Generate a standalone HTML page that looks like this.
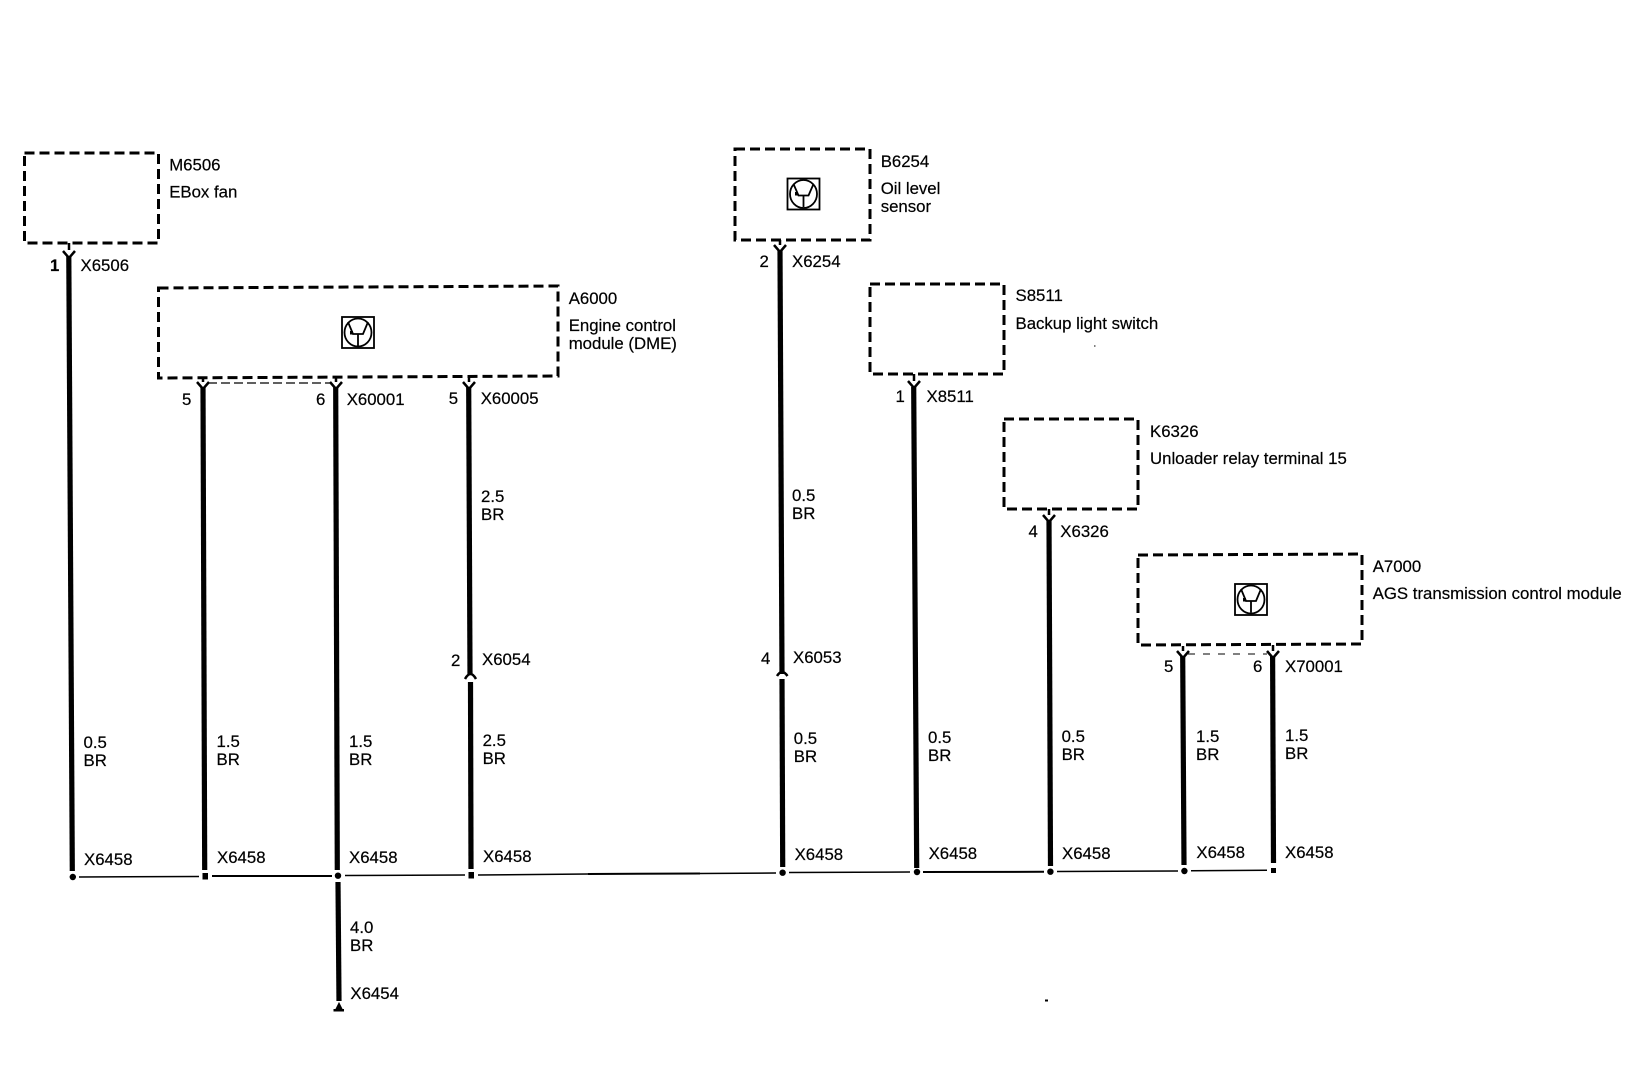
<!DOCTYPE html>
<html><head><meta charset="utf-8"><style>
html,body{margin:0;padding:0;background:#fff;width:1652px;height:1072px;overflow:hidden}
svg{display:block}
text{font-family:"Liberation Sans",sans-serif;font-size:16.8px;fill:#000;stroke:#000;stroke-width:.2}
.d{fill:none;stroke:#000;stroke-width:3;stroke-dasharray:10 5}
.w{stroke:#000;stroke-width:5.2;fill:none}
.b{stroke:#000;stroke-width:1.5;fill:none}
.y{stroke:#000;stroke-width:2.5;fill:none}
.i{fill:none;stroke:#000;stroke-width:1.8}
</style></head><body>
<svg width="1652" height="1072" viewBox="0 0 1652 1072" xmlns="http://www.w3.org/2000/svg">
<rect width="1652" height="1072" fill="#fff"/>
<!-- boxes -->
<path class="d" d="M24.5 153H158.5V243H24.5Z"/>
<path class="d" d="M158.500 288L558 286V376L158.500 378Z"/>
<path class="d" d="M735 149H870V240H735Z"/>
<path class="d" d="M870 284H1004V374H870Z"/>
<path class="d" d="M1004 419H1138V509H1004Z"/>
<path class="d" d="M1138 555L1362 554V644L1138 645Z"/>
<!-- thin dashed links -->
<path d="M208 383H330" stroke="#000" stroke-width="1.3" stroke-dasharray="9 4" fill="none"/>
<path d="M1188 654H1267" stroke="#000" stroke-width="1" stroke-dasharray="7 8" fill="none"/>
<!-- wires -->
<path class="w" d="M68.8 256L72.3 871"/>
<path class="w" d="M203 387L204.700 870"/>
<path class="w" d="M335.700 387L337.300 870"/>
<path class="w" d="M468.700 387L470 674"/>
<path class="w" d="M470.500 682L471 869"/>
<path class="w" d="M780 250L782 674"/>
<path class="w" d="M782 679L782.700 867"/>
<path class="w" d="M913.700 387L916.700 868"/>
<path class="w" d="M1049 520L1050.500 866"/>
<path class="w" d="M1182.700 656L1184 865"/>
<path class="w" d="M1272.600 656L1273.500 863"/>
<path class="w" d="M338 882L339 1001"/>
<!-- forks -->
<path class="y" d="M63 251L69 258L75 251M69 243V250"/>
<path class="y" d="M197 382L203 389L209 382M203 378V382"/>
<path class="y" d="M330 382L336 389L342 382M336 378V382"/>
<path class="y" d="M463 382L469 389L475 382M469 377V382"/>
<path class="y" d="M774 245L780 252L786 245M780 240V245"/>
<path class="y" d="M908 381L914 388L920 381M914 374V381"/>
<path class="y" d="M1043 515L1049 522L1055 515M1049 509V515"/>
<path class="y" d="M1177 651L1183 658L1189 651M1183 646V651"/>
<path class="y" d="M1267 651L1273 658L1279 651M1273 645V651"/>
<path class="y" d="M465 679Q470.500 669 476 679"/>
<path class="y" d="M777 676Q782 668 787.500 676"/>
<!-- bus -->
<path class="b" d="M79 877L199 876.500"/>
<path class="b" style="stroke-width:2" d="M212 876H332"/>
<path class="b" d="M345 875.500L465 875"/>
<path class="b" d="M478 875L588 874"/>
<path class="b" style="stroke-width:2" d="M588 874L700 873.500"/>
<path class="b" d="M700 873.500L776 873"/>
<path class="b" d="M789 872.500L910 872"/>
<path class="b" style="stroke-width:2" d="M923 872L1044 871.800"/>
<path class="b" d="M1057 871.500L1178 871"/>
<path class="b" d="M1191 870.800L1267 870.300"/>
<!-- dots -->
<circle cx="72.800" cy="877" r="3.200"/>
<rect x="202.500" y="873" width="5.500" height="6.500"/>
<circle cx="338" cy="875.700" r="3.200"/>
<rect x="468.500" y="872" width="5.500" height="6.500"/>
<circle cx="782.600" cy="872.700" r="3.200"/>
<circle cx="917" cy="872" r="3.200"/>
<circle cx="1050.400" cy="871.700" r="3.200"/>
<circle cx="1184.400" cy="871" r="3.200"/>
<rect x="1271" y="868" width="5" height="5"/>
<!-- ground -->
<path d="M339 1003L342 1009H336Z" stroke="#000"/>
<rect x="333.500" y="1009" width="10.500" height="2.500"/>
<!-- specks -->
<rect x="1045" y="999.500" width="3" height="2"/>
<rect x="1094" y="345.500" width="1.500" height="1"/>
<!-- icons -->
<g>
<rect class="i" x="342" y="317" width="32" height="31"/>
<ellipse class="i" cx="358" cy="332.500" rx="13.500" ry="14"/>
<path class="i" d="M348 322L353 334H363L368 322M358 334V346"/>
<rect x="350" y="331" width="3" height="3.500"/>
</g>
<g>
<rect class="i" x="787.500" y="178.500" width="32" height="31"/>
<ellipse class="i" cx="803.500" cy="194" rx="13.500" ry="14"/>
<path class="i" d="M793.500 184L798.500 195.500H808.500L813.500 184M803.500 195.500V207"/>
<rect x="795" y="192" width="3" height="3.500"/>
</g>
<g>
<rect class="i" x="1235" y="584" width="32" height="31"/>
<ellipse class="i" cx="1251" cy="599.500" rx="13.500" ry="14"/>
<path class="i" d="M1241 589L1246 601H1256L1261 589M1251 601V612.500"/>
<rect x="1243" y="598" width="3" height="3.500"/>
</g>
<!-- labels -->
<text x="169.200" y="170.700">M6506</text>
<text x="169.200" y="197.300">EBox fan</text>
<text x="50" y="271" font-weight="bold">1</text>
<text x="80.500" y="271">X6506</text>
<text x="568.700" y="304">A6000</text>
<text x="568.700" y="331">Engine control</text>
<text x="568.700" y="349">module (DME)</text>
<text x="182" y="405">5</text>
<text x="316" y="405">6</text>
<text x="346.700" y="405">X60001</text>
<text x="448.700" y="404">5</text>
<text x="480.700" y="404">X60005</text>
<text x="481" y="502">2.5</text>
<text x="481" y="520">BR</text>
<text x="451" y="666">2</text>
<text x="482" y="665">X6054</text>
<text x="880.700" y="167">B6254</text>
<text x="880.700" y="194">Oil level</text>
<text x="880.700" y="212">sensor</text>
<text x="759.500" y="267">2</text>
<text x="792" y="267">X6254</text>
<text x="792" y="501">0.5</text>
<text x="792" y="519">BR</text>
<text x="761" y="664">4</text>
<text x="793" y="663">X6053</text>
<text x="1015.500" y="301">S8511</text>
<text x="1015.500" y="329">Backup light switch</text>
<text x="895.500" y="402">1</text>
<text x="926.500" y="402">X8511</text>
<text x="1150" y="437">K6326</text>
<text x="1150" y="464">Unloader relay terminal 15</text>
<text x="1028.500" y="537">4</text>
<text x="1060.300" y="537">X6326</text>
<text x="1372.700" y="572">A7000</text>
<text x="1372.700" y="599">AGS transmission control module</text>
<text x="1164" y="672">5</text>
<text x="1253" y="672">6</text>
<text x="1285" y="672">X70001</text>
<text x="83.500" y="748">0.5</text><text x="83.500" y="766">BR</text><text x="84" y="865">X6458</text>
<text x="216.500" y="747">1.5</text><text x="216.500" y="765">BR</text><text x="217" y="863">X6458</text>
<text x="349" y="747">1.5</text><text x="349" y="765">BR</text><text x="349" y="863">X6458</text>
<text x="482.600" y="746">2.5</text><text x="482.600" y="764">BR</text><text x="483" y="862">X6458</text>
<text x="793.800" y="744">0.5</text><text x="793.800" y="762">BR</text><text x="794.600" y="860">X6458</text>
<text x="928" y="743">0.5</text><text x="928" y="761">BR</text><text x="928.600" y="859">X6458</text>
<text x="1061.600" y="742">0.5</text><text x="1061.600" y="760">BR</text><text x="1062" y="859">X6458</text>
<text x="1196" y="742">1.5</text><text x="1196" y="760">BR</text><text x="1196.400" y="858">X6458</text>
<text x="1285" y="741">1.5</text><text x="1285" y="759">BR</text><text x="1285" y="858">X6458</text>
<text x="350" y="933">4.0</text><text x="350" y="951">BR</text><text x="350.400" y="999">X6454</text>
</svg>
</body></html>
